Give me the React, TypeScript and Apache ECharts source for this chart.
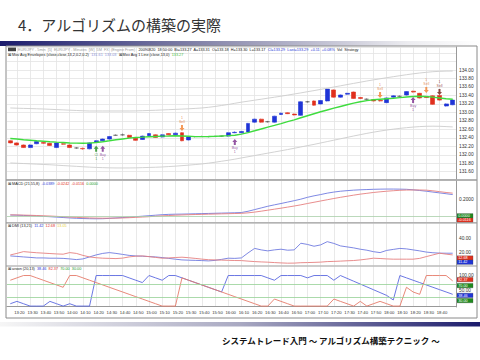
import React, { useEffect, useRef } from 'react';
import * as echarts from 'echarts';

const times = ['13:15','13:20','13:25','13:30','13:35','13:40','13:45','13:50','13:55','14:00','14:05','14:10','14:15','14:20','14:25','14:30','14:35','14:40','14:45','14:50','14:55','15:00','15:05','15:10','15:15','15:20','15:25','15:30','15:35','15:40','15:45','15:50','15:55','16:00','16:05','16:10','16:15','16:20','16:25','16:30','16:35','16:40','16:45','16:50','16:55','17:00','17:05','17:10','17:15','17:20','17:25','17:30','17:35','17:40','17:45','17:50','17:55','18:00','18:05','18:10','18:15','18:20','18:25','18:30','18:35','18:40','18:45','18:50'];

const opens = [132.33,132.28,132.23,132.17,132.26,132.29,132.27,132.17,132.26,132.23,
132.16,132.15,132.14,132.30,132.33,132.37,132.46,132.47,132.46,132.39,
132.36,132.45,132.47,132.42,132.50,132.47,132.52,132.35,132.43,132.43,
132.43,132.43,132.44,132.44,132.52,132.52,132.54,132.77,132.84,132.78,
132.77,132.95,132.99,132.96,132.93,133.25,133.27,133.20,133.27,133.53,
133.36,133.43,133.48,133.35,133.31,133.30,133.28,133.23,133.36,133.38,
133.41,133.50,133.45,133.37,133.39,133.40,133.15,133.18];
const closes = [132.28,132.23,132.17,132.23,132.31,132.27,132.22,132.28,132.25,132.17,
132.16,132.14,132.28,132.33,132.37,132.43,132.46,132.47,132.41,132.34,
132.44,132.50,132.41,132.47,132.47,132.51,132.33,132.42,132.43,132.43,
132.43,132.43,132.44,132.52,132.53,132.55,132.74,132.84,132.77,132.78,
132.91,132.98,132.97,132.94,133.25,133.25,133.17,133.28,133.55,133.36,
133.41,133.45,133.33,133.33,133.31,133.27,133.27,133.34,133.39,133.38,
133.49,133.48,133.34,133.35,133.19,133.29,133.20,133.29];
const lows = [132.27,132.22,132.16,132.16,132.25,132.26,132.21,132.16,132.24,132.16,
132.14,132.12,132.13,132.29,132.32,132.36,132.45,132.45,132.40,132.33,
132.35,132.44,132.40,132.41,132.46,132.46,132.32,132.34,132.41,132.42,
132.41,132.42,132.42,132.43,132.51,132.51,132.53,132.76,132.76,132.76,
132.76,132.94,132.96,132.93,132.92,133.23,133.16,133.19,133.26,133.35,
133.35,133.42,133.32,133.32,133.30,133.26,133.26,133.22,133.35,133.37,
133.40,133.47,133.33,133.34,133.18,133.28,133.14,133.17];
const highs = [132.34,132.29,132.24,132.24,132.32,132.30,132.28,132.29,132.27,132.24,
132.18,132.17,132.29,132.34,132.38,132.44,132.48,132.50,132.47,132.40,
132.45,132.51,132.48,132.48,132.51,132.52,132.53,132.43,132.44,132.45,
132.44,132.45,132.45,132.53,132.55,132.56,132.75,132.85,132.85,132.80,
132.92,132.99,133.00,132.97,133.26,133.27,133.28,133.29,133.56,133.54,
133.42,133.46,133.49,133.36,133.33,133.31,133.29,133.35,133.40,133.40,
133.50,133.51,133.46,133.38,133.40,133.41,133.21,133.30];

const maLine = [132.385,132.373,132.354,132.342,132.330,132.319,132.307,132.297,132.288,132.278,
132.274,132.271,132.274,132.288,132.307,132.330,132.354,132.373,132.392,132.406,
132.415,132.425,132.432,132.439,132.443,132.448,132.443,132.436,132.429,132.429,
132.432,132.436,132.443,132.451,132.462,132.486,132.524,132.566,132.609,132.651,
132.693,132.736,132.781,132.825,132.873,132.920,132.967,133.014,133.057,133.099,
133.139,133.179,133.217,133.250,133.278,133.297,133.311,133.323,133.335,133.349,
133.363,133.375,133.380,133.375,133.359,133.340,133.321,133.309];
const envUpper = [133.104,133.099,133.094,133.090,133.085,133.080,133.073,133.066,133.059,133.052,
133.045,133.038,133.033,133.033,133.033,133.033,133.033,133.033,133.033,133.035,
133.040,133.045,133.050,133.057,133.064,133.071,133.078,133.085,133.094,133.104,
133.120,133.139,133.163,133.186,133.215,133.241,133.264,133.288,133.311,133.335,
133.358,133.382,133.408,133.434,133.460,133.488,133.514,133.543,133.571,133.599,
133.627,133.656,133.684,133.712,133.741,133.767,133.793,133.818,133.842,133.866,
133.889,133.910,133.929,133.946,133.960,133.969,133.974,133.976];
const envLower = [131.807,131.800,131.793,131.786,131.778,131.771,131.764,131.755,131.745,131.736,
131.727,131.717,131.708,131.701,131.696,131.691,131.689,131.689,131.689,131.691,
131.696,131.701,131.705,131.712,131.722,131.731,131.743,131.755,131.769,131.783,
131.802,131.823,131.847,131.870,131.896,131.925,131.953,131.981,132.010,132.038,
132.066,132.094,132.123,132.153,132.184,132.215,132.245,132.278,132.311,132.344,
132.377,132.410,132.443,132.474,132.505,132.533,132.559,132.583,132.604,132.623,
132.639,132.653,132.665,132.672,132.674,132.672,132.665,132.657];

const macdLine = [0.020,0.018,0.015,0.012,0.008,0.004,0.000,-0.005,-0.010,-0.015,-0.019,
-0.022,-0.024,-0.025,-0.024,-0.020,-0.015,-0.010,
-0.005,0.000,0.006,0.012,0.018,0.024,0.028,0.030,
0.031,0.033,0.035,0.037,0.039,0.041,0.043,0.045,0.047,0.050,
0.065,0.085,0.105,0.125,0.142,0.158,0.175,0.192,0.210,
0.232,0.250,0.265,0.282,0.295,0.305,0.312,0.318,
0.322,0.325,0.328,0.330,0.331,0.331,0.330,0.328,
0.322,0.314,0.305,0.295,0.285,0.275,0.265];
const macdSignal = [0.022,0.021,0.019,0.017,0.014,0.011,0.008,0.004,0.000,-0.004,-0.008,
-0.012,-0.015,-0.017,-0.018,-0.018,-0.017,-0.015,
-0.012,-0.008,-0.004,0.000,0.005,0.010,0.014,0.018,
0.021,0.024,0.026,0.028,0.030,0.032,0.034,0.036,0.038,0.040,
0.046,0.055,0.066,0.078,0.090,0.102,0.115,0.128,0.142,
0.158,0.173,0.188,0.203,0.218,0.232,0.245,0.258,
0.270,0.280,0.290,0.298,0.305,0.311,0.316,0.319,
0.320,0.320,0.318,0.310,0.300,0.290,0.282];

const dmiPlus = [14.4,13.7,12.9,12.2,11.4,11.4,11.0,11.0,10.7,9.9,
8.9,9.9,12.9,15.9,18.2,19.4,18.2,16.7,15.2,14.4,
14.0,13.4,12.9,11.9,10.7,9.5,8.4,8.0,7.7,7.4,
6.9,7.7,9.2,11.0,10.7,11.4,18.9,25.7,23.5,22.0,
23.5,24.5,23.0,23.5,33.5,31.7,29.0,31.0,35.9,33.2,
29.5,28.0,26.5,24.5,23.0,20.8,19.4,22.7,24.2,25.7,
25.0,23.5,22.0,20.2,19.2,18.6,18.5,18.5];
const dmiMinus = [15.9,18.2,20.9,20.0,19.2,18.6,18.0,17.4,17.0,19.4,
18.2,15.2,12.9,11.7,11.0,10.7,10.4,11.1,12.9,14.0,
14.4,13.4,12.2,11.0,11.4,12.0,12.5,11.7,10.7,9.6,
8.7,8.4,8.1,7.8,7.5,7.4,6.6,5.9,5.4,5.0,
4.4,3.9,3.5,3.6,4.2,4.4,4.7,5.1,5.9,6.2,
6.6,7.1,7.5,8.4,9.6,11.0,10.5,9.9,9.5,9.5,
9.5,9.5,10.7,13.4,15.9,18.5,17.1,15.9];

const aroonUp = [7.7,15.4,7.7,0,0,0,15.4,7.7,0,7.7,
0,0,0,100,100,100,100,100,92.3,84.6,
76.9,100,92.3,84.6,100,100,92.3,84.6,76.9,69.2,
61.5,53.8,46.2,100,100,100,100,100,100,92.3,
84.6,100,100,100,100,92.3,100,100,100,84.6,
100,90.7,81.4,72.1,62.8,53.5,44.2,34.9,20,100,
92.3,84.6,76.9,69.2,61.5,53.8,46.2,38.46];
const aroonDown = [84.6,92.3,100,100,92.3,84.6,76.9,69.2,61.5,100,
100,92.3,84.6,76.9,69.2,61.5,53.8,46.2,38.5,30.8,
23.1,15.4,7.7,0,0,0,92.3,84.6,76.9,69.2,
61.5,53.8,46.2,38.5,30.8,23.1,15.4,7.7,0,0,
23.1,15.4,7.7,0,0,0,0,0,0,23.1,
15.4,7.7,0,15.4,0,7.7,15.4,7.7,0,0,
61.5,46.2,38.5,100,100,100,100,82.37];

const buySignals = [[14, 132.14], [34, 132.30], [61, 133.29]];
const coverSignals = [[13, 132.14]];
const sellSignals = [[26, 132.63], [56, 133.41], [63, 133.53]];
const exitSignals = [[65, 133.48]];

const FONT = 'Liberation Sans, Arial, sans-serif';
const JP = 'Noto Sans CJK JP, sans-serif';
const UP = 'path://M5,0L10,5L7,5L7,10L3,10L3,5L0,5Z';
const DOWN = 'path://M3,0L7,0L7,5L10,5L5,10L0,5L3,5Z';
const BLUE = '#1f34d6';
const RED = '#e0301e';

const everyTen = (i: number) => i % 2 === 1 && i < times.length - 1;

function badge(y: number, text: string, bg: string) {
  return {
    type: 'group', x: 457, y: y - 2.2, z: 120,
    children: [
      { type: 'rect', shape: { x: 0, y: 0, width: 16, height: 4.4 }, style: { fill: bg, stroke: '#444', lineWidth: 0.3 } },
      { type: 'text', x: 1.2, y: 2.3, style: { text, fill: '#fff', fontSize: 3.8, fontFamily: FONT, verticalAlign: 'middle' } },
    ],
  };
}

export default function App() {
  const ref = useRef<HTMLDivElement>(null);
  useEffect(() => {
    if (!ref.current) return;
    const chart = echarts.init(ref.current, undefined, { renderer: 'svg' });
    const candles = opens.map((o, i) => [o, closes[i], lows[i], highs[i]]);
    const grids = [
      { left: 7, right: 24, top: 47, height: 132 },
      { left: 7, right: 24, top: 181, height: 41 },
      { left: 7, right: 24, top: 223.5, height: 42 },
      { left: 7, right: 24, top: 266.5, height: 40.5 },
    ];
    const xAxes = grids.map((_, g) => ({
      type: 'category', gridIndex: g, data: times, boundaryGap: true,
      axisLine: { show: g === 3, lineStyle: { color: '#999', width: 1 } },
      axisTick: { show: false },
      axisLabel: { show: g === 3, interval: everyTen, fontSize: 4.2, color: '#333', margin: 3, fontFamily: FONT, padding: [0, 0, 0, 5] },
      splitLine: { show: true, interval: everyTen, alignWithLabel: true, lineStyle: { color: '#e3e3e3', width: 0.8 } },
    }));
    const yBase = {
      type: 'value', position: 'right', scale: true,
      axisLine: { show: true, lineStyle: { color: '#999', width: 1 } },
      axisTick: { show: false },
      splitLine: { show: false },
    };
    const lbl = (f: (v: number) => string) => ({ fontSize: 4.8, color: '#333', margin: 3, fontFamily: FONT, showMinLabel: false, showMaxLabel: false, formatter: f });
    const yAxes = [
      { ...yBase, gridIndex: 0, min: 131.428, max: 134.543, splitNumber: 15,
        splitLine: { show: true, lineStyle: { color: '#e3e3e3', width: 0.8 } },
        axisLabel: lbl((v) => (v > 131.59 && v < 134.01 ? v.toFixed(2) : '')) },
      { ...yBase, gridIndex: 1, min: -0.0635, max: 0.4275, splitNumber: 2,
        axisLabel: lbl((v) => (Math.abs(v - 0.2) < 1e-6 ? '0.2000' : '')) },
      { ...yBase, gridIndex: 2, min: 0, max: 63.2, splitNumber: 3,
        axisLabel: lbl((v) => (Math.abs(v - 20) < 1e-6 || Math.abs(v - 40) < 1e-6 ? v.toFixed(2) : '')) },
      { ...yBase, gridIndex: 3, min: -3, max: 129.5, splitNumber: 2,
        axisLabel: lbl((v) => (Math.abs(v - 50) < 1e-6 || Math.abs(v - 100) < 1e-6 ? v.toFixed(2) : '')) },
    ];
    const thin = (color: string, w = 0.9) => ({ color, width: w });
    const sigLabel = (text: string, pos: string, color: string) => ({
      show: true, position: pos, distance: 1, formatter: text, fontSize: 3.6, lineHeight: 4, color, fontFamily: FONT,
    });
    const option: any = {
      animation: false,
      backgroundColor: '#ffffff',
      textStyle: { fontFamily: FONT },
      grid: grids,
      xAxis: xAxes,
      yAxis: yAxes,
      series: [
        { type: 'line', xAxisIndex: 0, yAxisIndex: 0, data: envUpper, symbol: 'none', lineStyle: thin('#cdcdcd', 0.9) },
        { type: 'line', xAxisIndex: 0, yAxisIndex: 0, data: envLower, symbol: 'none', lineStyle: thin('#cdcdcd', 0.9) },
        { type: 'candlestick', xAxisIndex: 0, yAxisIndex: 0, data: candles, barWidth: 4.4,
          itemStyle: { color: BLUE, color0: RED, borderColor: BLUE, borderColor0: RED, borderColorDoji: '#555', borderWidth: 0.6 } },
        { type: 'line', xAxisIndex: 0, yAxisIndex: 0, data: maLine, symbol: 'none', lineStyle: thin('#3fdc3f', 1.4), z: 3 },
        { type: 'scatter', xAxisIndex: 0, yAxisIndex: 0, data: coverSignals, symbol: UP, symbolSize: [5, 6], z: 4,
          itemStyle: { color: '#1e8c1e' }, label: sigLabel('Cl\n1', 'bottom', '#1e8c1e') },
        { type: 'scatter', xAxisIndex: 0, yAxisIndex: 0, data: buySignals, symbol: UP, symbolSize: [5, 6], z: 4,
          itemStyle: { color: '#7a2b8c' }, label: sigLabel('Buy\n1', 'bottom', '#7a2b8c') },
        { type: 'scatter', xAxisIndex: 0, yAxisIndex: 0, data: sellSignals, symbol: DOWN, symbolSize: [5, 6], z: 4,
          itemStyle: { color: '#f28030' }, label: sigLabel('1\nSell', 'top', '#e07030') },
        { type: 'scatter', xAxisIndex: 0, yAxisIndex: 0, data: exitSignals, symbol: DOWN, symbolSize: [5, 6], z: 4,
          itemStyle: { color: '#6e1c10' }, label: sigLabel('1\nSell', 'top', '#8a2a1a') },
        { type: 'line', xAxisIndex: 1, yAxisIndex: 1, data: macdLine, symbol: 'none', lineStyle: thin('#6f7be0'),
          markLine: { silent: true, symbol: 'none', label: { show: false }, lineStyle: { color: '#a9cfa9', type: 'solid', width: 0.8 }, data: [{ yAxis: 0 }] } },
        { type: 'line', xAxisIndex: 1, yAxisIndex: 1, data: macdSignal, symbol: 'none', lineStyle: thin('#e58080') },
        { type: 'line', xAxisIndex: 2, yAxisIndex: 2, data: dmiPlus, symbol: 'none', lineStyle: thin('#6f7be0') },
        { type: 'line', xAxisIndex: 2, yAxisIndex: 2, data: dmiMinus, symbol: 'none', lineStyle: thin('#e58080') },
        { type: 'line', xAxisIndex: 3, yAxisIndex: 3, data: aroonUp, symbol: 'none', lineStyle: thin('#5a68e0'),
          markLine: { silent: true, symbol: 'none', label: { show: false }, lineStyle: { color: '#96d096', type: 'solid', width: 0.8 }, data: [{ yAxis: 70 }, { yAxis: 30 }] } },
        { type: 'line', xAxisIndex: 3, yAxisIndex: 3, data: aroonDown, symbol: 'none', lineStyle: thin('#e57a6a') },
      ],
      graphic: [
        { type: 'text', x: 18, y: 24, z: 100, style: { text: '4．アルゴリズムの構築の実際', fontSize: 15, fontFamily: JP, fill: '#333', verticalAlign: 'middle' } },
        { type: 'rect', z: 100, shape: { x: 0, y: 41, width: 480, height: 5 },
          style: { fill: new echarts.graphic.LinearGradient(0, 0, 1, 0, [
            { offset: 0, color: '#1b1b6c' }, { offset: 0.45, color: '#8c8cae' }, { offset: 0.85, color: '#ececf0' }, { offset: 1, color: '#ffffff' }]) } },
        { type: 'rect', z: 100, shape: { x: 6, y: 46, width: 471, height: 272 }, style: { fill: 'none', stroke: '#8a8a8a', lineWidth: 1 } },
        { type: 'line', z: 100, shape: { x1: 6, y1: 180, x2: 477, y2: 180 }, style: { stroke: '#9a9a9a', lineWidth: 1.6 } },
        { type: 'line', z: 100, shape: { x1: 6, y1: 222.8, x2: 477, y2: 222.8 }, style: { stroke: '#9a9a9a', lineWidth: 1.2 } },
        { type: 'line', z: 100, shape: { x1: 6, y1: 266, x2: 477, y2: 266 }, style: { stroke: '#9a9a9a', lineWidth: 1.2 } },
        { type: 'rect', z: 100, shape: { x: 8, y: 47.6, width: 8, height: 3.6 }, style: { fill: '#444' } },
        { type: 'text', x: 18, y: 49.5, z: 101, style: {
          text: '{g|EUR/JPY - 5min  [5]  EUR/JPY - Minutes  [W]  5M  FX  (Engine From)}   {d|20090820  18:50:00  Bi=133.27  A=133.31  O=133.18  H=133.30  L=133.17}  {b|Cl=133.29  Last=133.29  +0.11  +0.08%}  {d|Vol  Strategy}',
          fontSize: 3.8, fontFamily: FONT, verticalAlign: 'middle',
          rich: { g: { fill: '#9a9a9a', fontSize: 3.8 }, d: { fill: '#222', fontSize: 3.8 }, b: { fill: '#2a3ad8', fontSize: 3.8 } } } },
        { type: 'text', x: 8, y: 55, z: 101, style: {
          text: '{d|⊠ Mov Avg Envelopes (close,close,13,2,0.2,0.2)}  {l|131.61  133.03}  {d|⊠ Mov Avg 1 Line (close,13,0)}  {g|133.27}',
          fontSize: 3.8, fontFamily: FONT, verticalAlign: 'middle',
          rich: { d: { fill: '#222', fontSize: 3.8 }, l: { fill: '#8a92d8', fontSize: 3.8 }, g: { fill: '#3fc03f', fontSize: 3.8 } } } },
        { type: 'text', x: 8, y: 183.5, z: 101, style: {
          text: '{d|⊠ MACD (21,55,8)}  {b|-0.0389}  {r|-0.0242}  {r|-0.0116}  {g|0.0000}',
          fontSize: 3.8, fontFamily: FONT, verticalAlign: 'middle',
          rich: { d: { fill: '#222', fontSize: 3.8 }, b: { fill: '#2a3ad8', fontSize: 3.8 }, r: { fill: '#e0301e', fontSize: 3.8 }, g: { fill: '#2a9a2a', fontSize: 3.8 } } } },
        { type: 'text', x: 8, y: 226, z: 101, style: {
          text: '{d|⊠ DMI (13,21)}  {b|11.42}  {r|12.68}  {y|13.05}',
          fontSize: 3.8, fontFamily: FONT, verticalAlign: 'middle',
          rich: { d: { fill: '#222', fontSize: 3.8 }, b: { fill: '#2a3ad8', fontSize: 3.8 }, r: { fill: '#e0301e', fontSize: 3.8 }, y: { fill: '#e8d040', fontSize: 3.8 } } } },
        { type: 'text', x: 8, y: 269, z: 101, style: {
          text: '{d|⊠ aroon (20,13)}  {b|38.46}  {r|82.37}  {g|70.00}  {g|30.00}',
          fontSize: 3.8, fontFamily: FONT, verticalAlign: 'middle',
          rich: { d: { fill: '#222', fontSize: 3.8 }, b: { fill: '#2a3ad8', fontSize: 3.8 }, r: { fill: '#e0301e', fontSize: 3.8 }, g: { fill: '#2a9a2a', fontSize: 3.8 } } } },
        badge(215.8, '0.0000', '#1e8a1e'),
        badge(220.2, '-0.0116', '#e0301e'),
        badge(258, '12.68', '#e0301e'),
        badge(262.2, '11.42', '#1f34d6'),
        badge(279.6, '82.37', '#e0301e'),
        badge(285.6, '70.00', '#1e8a1e'),
        badge(295.4, '38.46', '#1f34d6'),
        badge(300.6, '30.00', '#1e8a1e'),
        { type: 'rect', z: 100, shape: { x: 0, y: 322, width: 480, height: 4.5 },
          style: { fill: new echarts.graphic.LinearGradient(0, 0, 1, 0, [
            { offset: 0, color: '#f6f6f6' }, { offset: 0.5, color: '#a9a9c2' }, { offset: 1, color: '#1b1b6c' }]) } },
        { type: 'text', x: 222, y: 340, z: 100, style: { text: 'システムトレード入門 ～ アルゴリズム構築テクニック ～', fontSize: 8.5, fontWeight: 'bold', fontFamily: JP, fill: '#111', verticalAlign: 'middle' } },
      ],
    };
    chart.setOption(option);
    return () => chart.dispose();
  }, []);
  return <div ref={ref} style={{ position: 'fixed', left: 0, top: 0, width: 480, height: 360, background: '#fff' }} />;
}
